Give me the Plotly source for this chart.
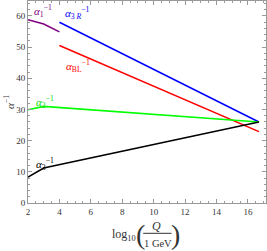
import plotly.graph_objects as go

# data
x_a1 = [2, 3, 4]
y_a1 = [58.8, 57.4, 54.9]
x_a3r = [4, 16.7]
y_a3r = [58.0, 26.0]
x_abl = [4, 16.7]
y_abl = [50.5, 22.9]
x_a2 = [2, 3, 16.7]
y_a2 = [29.9, 31.0, 26.0]
x_a3 = [2, 3, 16.7]
y_a3 = [8.3, 11.2, 26.0]
x_ticks = [2, 4, 6, 8, 10, 12, 14, 16]
y_ticks = [0, 10, 20, 30, 40, 50, 60]

SERIF = "Liberation Serif"
TXT = "#333333"
fig = go.Figure()
series = [
    (x_a1, y_a1, "#800080"),
    (x_a3r, y_a3r, "#0000ff"),
    (x_abl, y_abl, "#ff0000"),
    (x_a2, y_a2, "#00ff00"),
    (x_a3, y_a3, "#000000"),
]
for xs, ys, c in series:
    fig.add_trace(go.Scatter(x=xs, y=ys, mode="lines", hoverinfo="skip",
                             line=dict(color=c, width=1.6), showlegend=False))

labels = [
    (2.25, 61.5, "<i>α</i><sub>1</sub><sup>−1</sup>", "#800080"),
    (4.2, 61.0, "<i>α</i><sub>3 <i>R</i></sub><sup>−1</sup>", "#0000ff"),
    (4.3, 43.8, "<i>α</i><sub>BL</sub><sup>−1</sup>", "#ff0000"),
    (2.4, 32.5, "<i>α</i><sub>2</sub><sup>−1</sup>", "#00dd00"),
    (2.4, 12.5, "<i>α</i><sub>3</sub><sup>−1</sup>", "#000000"),
]
for lx, ly, t, c in labels:
    fig.add_annotation(x=lx, y=ly, text=t, showarrow=False, xanchor="left",
                       yanchor="middle", font=dict(family=SERIF, size=11, color=c))

axis_common = dict(
    showgrid=False, zeroline=False, showline=True, linecolor="#999999",
    linewidth=1, mirror="ticks", ticks="inside", ticklen=4, tickcolor="#999999",
    tickfont=dict(family=SERIF, size=9, color=TXT),
)
fig.update_xaxes(range=[2, 17.15], tickvals=x_ticks,
                 minor=dict(ticks="inside", ticklen=2, dtick=0.5, tickcolor="#999999"),
                 **axis_common)
fig.update_yaxes(range=[0, 64.8], tickvals=y_ticks,
                 minor=dict(ticks="inside", ticklen=2, dtick=2, tickcolor="#999999"),
                 **axis_common)

# y axis title
fig.add_annotation(xref="paper", yref="paper", x=-0.08, y=0.5,
                   text="<i>α</i><sup>−1</sup>", textangle=-90, showarrow=False,
                   xanchor="center", yanchor="middle",
                   font=dict(family=SERIF, size=11, color=TXT))
# x axis title: log10( Q / 1 GeV )
fig.add_annotation(xref="paper", yref="paper", x=0.462, y=-0.158,
                   text="log<sub>10</sub>", showarrow=False, xanchor="right",
                   yanchor="middle", font=dict(family=SERIF, size=12, color=TXT))
fig.add_annotation(xref="paper", yref="paper", x=0.471, y=-0.155,
                   text="(", showarrow=False, xanchor="center", yanchor="middle",
                   font=dict(family=SERIF, size=28, color=TXT))
fig.add_annotation(xref="paper", yref="paper", x=0.541, y=-0.114,
                   text="<i>Q</i>", showarrow=False, yanchor="middle",
                   font=dict(family=SERIF, size=12, color=TXT))
fig.add_annotation(xref="paper", yref="paper", x=0.546, y=-0.2,
                   text="1 GeV", showarrow=False, yanchor="middle",
                   font=dict(family=SERIF, size=10.5, color=TXT))
fig.add_shape(type="line", xref="paper", yref="paper", x0=0.484, x1=0.603,
              y0=-0.150, y1=-0.150, line=dict(color=TXT, width=1))
fig.add_annotation(xref="paper", yref="paper", x=0.618, y=-0.155,
                   text=")", showarrow=False, xanchor="center", yanchor="middle",
                   font=dict(family=SERIF, size=28, color=TXT))

fig.update_layout(width=267, height=251, margin=dict(l=28, r=1, t=1, b=48),
                  plot_bgcolor="white", paper_bgcolor="white", hovermode=False)
fig.write_html("out.html", config={"displayModeBar": False},
               post_script="document.body.style.margin='0';document.body.style.overflow='hidden';")
